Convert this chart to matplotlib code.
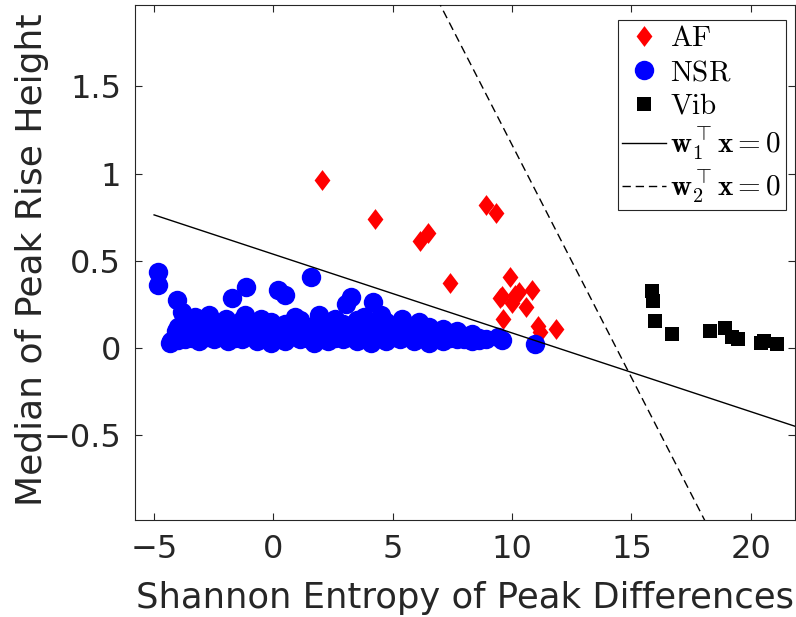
import matplotlib
matplotlib.use("Agg")
import matplotlib.pyplot as plt
import numpy as np

plt.rcParams["mathtext.fontset"] = "cm"

# AF points (red diamonds)
af_x = [2.05, 4.27, 6.15, 6.49, 7.41, 8.91, 9.34, 9.90, 9.51, 9.58, 10.00,
        10.13, 10.31, 10.83, 10.60, 9.62, 11.07, 11.18, 11.84]
af_y = [0.966, 0.740, 0.615, 0.660, 0.376, 0.822, 0.774, 0.407, 0.287, 0.300,
        0.258, 0.306, 0.325, 0.334, 0.239, 0.166, 0.128, 0.095, 0.109]

# NSR points (blue circles)
nsr_x = [
    # bottom row
    -4.3, -3.7, -3.1, -2.5, -1.9, -1.3, -0.7, -0.1, 0.5, 1.1, 1.7, 2.3,
    2.9, 3.5, 4.1, 4.7, 5.3, 5.9, 6.5, 7.1, 7.7, 8.3, 8.9,
    -4.0, -3.4, -2.8, -2.2, -1.6, -1.0, -0.4, 0.2, 0.8, 1.4, 2.0, 2.6,
    3.2, 3.8, 4.4, 5.0, 5.6, 6.2, 6.8, 7.4, 8.0, 8.6,
    # second row
    -4.1, -3.4, -2.8, -2.2, -1.6, -1.0, -0.4, 0.2, 0.8, 1.4, 2.0, 2.6,
    3.2, 3.8, 4.4, 5.0, 5.6, 6.2, 6.8, 7.4, 8.0, 8.6,
    -4.0, -3.1, -2.5, -1.9, -1.3, -0.7, -0.1, 0.5, 1.1, 1.7, 2.3, 2.9,
    3.5, 4.1, 4.7, 5.3, 5.9, 6.5, 7.1, 7.7, 8.3,
    # third row
    -3.8, -3.1, -2.5, -1.9, -1.3, -0.7, -0.1, 0.5, 1.1, 1.7, 2.3, 2.9,
    3.5, 4.1, 4.7, 5.3, 5.9, 6.5, 7.1, 7.7,
    # top row
    -3.3, -2.7, -2.0, -1.2, -0.5, 0.9, 1.9, 2.6, 3.8, 4.5, 5.4, 6.1,
    # outliers
    -4.82, -4.82, -4.05, -3.84, -1.14, -1.74, 1.57, 0.21, 0.49, 3.25,
    3.05, 4.19, 9.58, 10.97, 9.43, -4.33, -3.98,
]
nsr_y = [
    0.04, 0.05, 0.04, 0.05, 0.04, 0.05, 0.04, 0.03, 0.04, 0.05, 0.03, 0.04,
    0.05, 0.04, 0.03, 0.04, 0.05, 0.04, 0.03, 0.04, 0.05, 0.04, 0.05,
    0.07, 0.06, 0.065, 0.07, 0.06, 0.07, 0.06, 0.065, 0.07, 0.06, 0.07, 0.06,
    0.065, 0.07, 0.06, 0.065, 0.07, 0.06, 0.065, 0.06, 0.05, 0.045,
    0.10, 0.08, 0.09, 0.10, 0.08, 0.09, 0.10, 0.08, 0.09, 0.10, 0.08, 0.09,
    0.10, 0.08, 0.09, 0.10, 0.08, 0.09, 0.08, 0.09, 0.07, 0.06,
    0.12, 0.11, 0.12, 0.125, 0.11, 0.12, 0.125, 0.11, 0.12, 0.125, 0.11, 0.12,
    0.125, 0.11, 0.12, 0.11, 0.10, 0.10, 0.09, 0.085, 0.08,
    0.15, 0.13, 0.15, 0.14, 0.16, 0.13, 0.15, 0.14, 0.16, 0.13, 0.15, 0.14,
    0.16, 0.13, 0.15, 0.13, 0.12, 0.12, 0.11, 0.10,
    0.18, 0.19, 0.17, 0.19, 0.17, 0.18, 0.19, 0.17, 0.18, 0.19, 0.17, 0.15,
    0.434, 0.363, 0.277, 0.210, 0.350, 0.287, 0.410, 0.334, 0.306, 0.296,
    0.254, 0.267, 0.048, 0.025, 0.063, 0.029, 0.048,
]

# Vib points (black squares)
vib_x = [15.87, 15.91, 16.00, 16.68, 18.31, 18.94, 19.22, 19.46, 20.41, 20.55, 21.11]
vib_y = [0.330, 0.273, 0.158, 0.080, 0.099, 0.115, 0.067, 0.053, 0.029, 0.040, 0.025]

# decision boundaries y = m*x + b
w1_slope, w1_icept = -0.0451, 0.5385
w2_slope, w2_icept = -0.2665, 3.83
w1_xrange = [-5, 22.5]
w2_xrange = [5.0, 20.0]

xlim = [-5.8, 21.85]
ylim = [-0.985, 1.967]
xticks = [-5, 0, 5, 10, 15, 20]
yticks = [-0.5, 0, 0.5, 1, 1.5]
ytick_labels = ["\u22120.5", "0", "0.5", "1", "1.5"]
xtick_labels = ["\u22125", "0", "5", "10", "15", "20"]

AXCOL = "#262626"

fig = plt.figure(figsize=(7.96, 6.17), dpi=100)
ax = fig.add_axes([0.1696, 0.157, 0.829, 0.835])

diamond = [(0, 1), (0.76, 0), (0, -1), (-0.76, 0), (0, 1)]
ax.plot(af_x, af_y, linestyle="none", marker=diamond, markersize=15,
        color="#FF0000", markeredgewidth=0, label=r"$\mathrm{AF}$")
ax.plot(nsr_x, nsr_y, linestyle="none", marker="o", markersize=14,
        color="#0000FF", markeredgewidth=0, label=r"$\mathrm{NSR}$")
ax.plot(vib_x, vib_y, linestyle="none", marker="s", markersize=9.5,
        color="black", markeredgewidth=0, label=r"$\mathrm{Vib}$")

x1 = np.array(w1_xrange)
ax.plot(x1, w1_slope * x1 + w1_icept, color="black", lw=1.0, zorder=5,
        label=r"$\mathbf{w}_1^\top\mathbf{x}=0$")
x2 = np.array(w2_xrange)
ax.plot(x2, w2_slope * x2 + w2_icept, color="black", lw=1.0, zorder=5,
        linestyle=(0, (6, 3.5)), label=r"$\mathbf{w}_2^\top\mathbf{x}=0$")

ax.set_xlim(xlim)
ax.set_ylim(ylim)
ax.set_xticks(xticks)
ax.set_xticklabels(xtick_labels)
ax.set_yticks(yticks)
ax.set_yticklabels(ytick_labels)
ax.tick_params(direction="in", length=5, width=0.8, top=True, right=True,
               colors=AXCOL, labelsize=23, pad=10)
for sp in ax.spines.values():
    sp.set_color(AXCOL)
    sp.set_linewidth(0.8)

ax.set_xlabel("Shannon Entropy of Peak Differences", fontsize=25.5, color=AXCOL)
ax.set_ylabel("Median of Peak Rise Height", fontsize=26, color=AXCOL)
ax.xaxis.set_label_coords(0.5, -0.118)
ax.yaxis.set_label_coords(-0.13, 0.505)

leg = ax.legend(loc="upper right", bbox_to_anchor=(0.986, 0.971), borderaxespad=0,
                fontsize=21, frameon=True, fancybox=False, framealpha=1,
                edgecolor=AXCOL, handlelength=1.5, handletextpad=0.15,
                labelspacing=0.2, borderpad=0.15)
leg.get_frame().set_linewidth(0.8)

fig.savefig("out.png", dpi=100)
